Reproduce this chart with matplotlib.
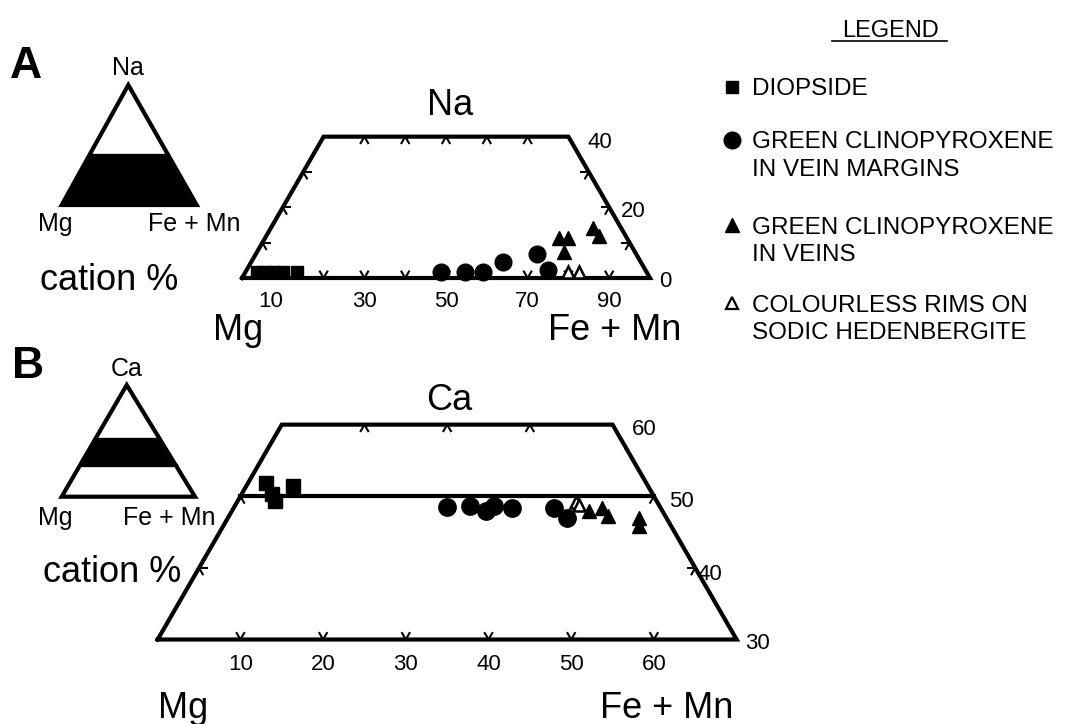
import numpy as np
import matplotlib
matplotlib.use('Agg')
import matplotlib.pyplot as plt
from matplotlib.patches import Polygon

plt.rcParams['font.family'] = ['Liberation Sans', 'DejaVu Sans']
plt.rcParams['hatch.linewidth'] = 1.5

W, H, DPI = 1072, 724, 100

# ---------------- data (cation %) ----------------
# Panel A : Na - Mg - (Fe + Mn)
a_diop_fe = [2.8, 4.7, 6.9, 9.1, 12.6]
a_diop_na = [1.8, 1.8, 1.8, 1.8, 1.8]
a_marg_fe = [47.8, 53.8, 58.2, 61.7, 69.0, 73.9]
a_marg_na = [1.8, 1.8, 1.8, 4.6, 6.7, 2.3]
a_vein_fe = [72.2, 74.4, 75.2, 78.9, 81.6]
a_vein_na = [11.2, 11.2, 7.4, 14.2, 12.0]
a_rim_fe = [79.1, 81.8]
a_rim_na = [1.8, 1.8]

# Panel B : Ca - Mg - (Fe + Mn)
b_diop_fe = [2.2, 3.7, 4.5, 5.6]
b_diop_ca = [51.9, 50.3, 49.3, 51.4]
b_marg_fe = [25.7, 28.5, 30.7, 31.4, 33.7, 38.7, 41.1]
b_marg_ca = [48.5, 48.6, 48.0, 48.6, 48.4, 48.4, 46.9]
b_vein_fe = [43.1, 44.5, 45.9, 49.7, 50.3]
b_vein_ca = [48.0, 48.4, 47.2, 47.0, 45.8]
b_rim_fe = [41.0, 41.6]
b_rim_ca = [49.2, 48.8]

a_bottom_labels = [10, 30, 50, 70, 90]
a_right_labels = [40, 20, 0]
b_bottom_labels = [10, 20, 30, 40, 50, 60]
b_right_labels = [60, 50, 40, 30]

legend_labels = ["DIOPSIDE",
                 "GREEN CLINOPYROXENE\nIN VEIN MARGINS",
                 "GREEN CLINOPYROXENE\nIN VEINS",
                 "COLOURLESS RIMS ON\nSODIC HEDENBERGITE"]

SQ3 = np.sqrt(3) / 2


def tern(fe, top):
    fe = np.asarray(fe, float)
    top = np.asarray(top, float)
    return fe + top / 2.0, top * SQ3


fig = plt.figure(figsize=(W / DPI, H / DPI), dpi=DPI)


def tern_axes(ox, oy, s, X0, Y0):
    ax = fig.add_axes([0, 0, 1, 1])
    ax.set_xlim(X0 + (0 - ox) / s, X0 + (W - ox) / s)
    ax.set_ylim(Y0 + (oy - H) / s, Y0 + oy / s)
    ax.axis('off')
    ax.patch.set_alpha(0)
    return ax


def ptext(px, py, s, **kw):
    kw.setdefault('va', 'baseline')
    kw.setdefault('ha', 'left')
    fig.text(px / W, 1 - py / H, s, **kw)


def chevron(ax, fe, top, dirs, L):
    x, y = tern(fe, top)
    for dx, dy in dirs:
        ax.plot([x, x + dx * L], [y, y + dy * L], color='black', lw=1.5,
                solid_capstyle='butt', zorder=2)


BORDER = 3.0
UP_DIRS = [(0.5, SQ3), (-0.5, SQ3)]
DOWN_DIRS = [(0.5, -SQ3), (-0.5, -SQ3)]
LEFT_DIRS = [(1, 0), (0.5, -SQ3)]
RIGHT_DIRS = [(-1, 0), (-0.5, -SQ3)]
TICK_PX = 8.5

# ---------------- Panel A ----------------
sA = 4.08
axA = tern_axes(242, 278, sA, 0, 0)
x, y = tern([0, 100, 60, 0, 0], [0, 0, 40, 40, 0])
axA.plot(x, y, color='black', lw=BORDER, solid_joinstyle='miter', zorder=3)
LA = TICK_PX / sA
for f in range(10, 100, 10):
    chevron(axA, f, 0, UP_DIRS, LA)
for f in range(10, 60, 10):
    chevron(axA, f, 40, DOWN_DIRS, LA)
for n in (10, 20, 30):
    chevron(axA, 0, n, LEFT_DIRS, LA)
    chevron(axA, 100 - n, n, RIGHT_DIRS, LA)

axA.plot(*tern(a_diop_fe, a_diop_na), 's', color='black', ms=9, zorder=5)
axA.plot(*tern(a_marg_fe, a_marg_na), 'o', color='black', ms=12, zorder=5)
axA.plot(*tern(a_vein_fe, a_vein_na), '^', color='black', ms=10, zorder=5)
axA.plot(*tern(a_rim_fe, a_rim_na), '^', mfc='white', mec='black', mew=1.8,
         ms=9, zorder=5)

# ---------------- Panel B ----------------
sB = 8.27
axB = tern_axes(157.7, 639.5, sB, 15, 30 * SQ3)
x, y = tern([0, 70, 40, 0, 0], [30, 30, 60, 60, 30])
axB.plot(x, y, color='black', lw=BORDER, solid_joinstyle='miter', zorder=3)
x, y = tern([0, 50], [50, 50])
axB.plot(x, y, color='black', lw=BORDER, zorder=3)
LB = TICK_PX / sB
for f in range(10, 70, 10):
    chevron(axB, f, 30, UP_DIRS, LB)
for f in range(10, 40, 10):
    chevron(axB, f, 60, DOWN_DIRS, LB)
for c in (40, 50):
    chevron(axB, 0, c, LEFT_DIRS, LB)
    chevron(axB, 100 - c, c, RIGHT_DIRS, LB)

axB.plot(*tern(b_diop_fe, b_diop_ca), 's', color='black', ms=10, zorder=5)
axB.plot(*tern(b_marg_fe, b_marg_ca), 'o', color='black', ms=12.5, zorder=5)
axB.plot(*tern(b_vein_fe, b_vein_ca), '^', color='black', ms=10, zorder=5)
axB.plot(*tern(b_rim_fe, b_rim_ca), '^', mfc='white', mec='black', mew=1.8,
         ms=9, zorder=5)

# ---------------- inset triangles (pixel axes) ----------------
axP = fig.add_axes([0, 0, 1, 1])
axP.set_xlim(0, W)
axP.set_ylim(H, 0)
axP.axis('off')
axP.patch.set_alpha(0)


def inset(apex, base_y, xl, xr, f0, f1):
    ax_, ay = apex
    h = base_y - ay

    def edge_pts(f):
        yy = base_y - f * h
        return (xl + (ax_ - xl) * f, yy), (xr + (ax_ - xr) * f, yy)
    (l0, r0), (l1, r1) = edge_pts(f0), edge_pts(f1)
    axP.add_patch(Polygon([l0, r0, r1, l1], closed=True, facecolor='white',
                          edgecolor='black', hatch='x' * 16, lw=0, zorder=1))
    for f in (f0, f1):
        if 0 < f < 1:
            a, b = edge_pts(f)
            axP.plot([a[0], b[0]], [a[1], b[1]], color='black', lw=2.4,
                     zorder=2)
    axP.add_patch(Polygon([(xl, base_y), (xr, base_y), apex], closed=True,
                          fill=False, edgecolor='black', lw=BORDER,
                          joinstyle='miter', zorder=3))


inset((128.3, 85), 205, 61.7, 196.7, 0.0, 0.42)
inset((126.7, 385), 496.7, 61.7, 195, 0.28, 0.52)

# ---------------- texts ----------------
BIG = 26
ptext(10, 78, 'A', fontsize=32, fontweight='bold')
ptext(128, 75, 'Na', fontsize=18, ha='center')
ptext(38, 231, 'Mg', fontsize=18)
ptext(148, 231, 'Fe + Mn', fontsize=18)
ptext(40, 290, 'cation %', fontsize=BIG)
ptext(450, 115, 'Na', fontsize=BIG, ha='center')
ptext(213, 340, 'Mg', fontsize=BIG)
ptext(548, 340, 'Fe + Mn', fontsize=BIG)
for v in a_bottom_labels:
    px = 242 + sA * v - (12 if v == 10 else 0)
    ptext(px, 307, str(v), fontsize=16, ha='center')
for v, (px, py) in zip(a_right_labels, [(587, 148), (621, 217), (659, 287)]):
    ptext(px, py, str(v), fontsize=16)

ptext(12, 378, 'B', fontsize=32, fontweight='bold')
ptext(127, 376, 'Ca', fontsize=18, ha='center')
ptext(38, 525, 'Mg', fontsize=18)
ptext(123, 525, 'Fe + Mn', fontsize=18)
ptext(43, 582, 'cation %', fontsize=BIG)
ptext(449, 410, 'Ca', fontsize=BIG, ha='center')
ptext(158, 718, 'Mg', fontsize=BIG)
ptext(600, 718, 'Fe + Mn', fontsize=BIG)
for v in b_bottom_labels:
    ptext(157.7 + sB * v, 670, str(v), fontsize=16, ha='center')
for v, (px, py) in zip(b_right_labels,
                       [(632, 435), (669, 507), (697, 580), (745, 649)]):
    ptext(px, py, str(v), fontsize=16)

# ---------------- legend ----------------
ptext(890, 37, 'LEGEND', fontsize=17, ha='center')
axP.plot([832, 947], [41, 41], color='black', lw=1.2)
leg_y = [86.7, 140, 225, 303]
leg_mk = [dict(marker='s', color='black', ms=9),
          dict(marker='o', color='black', ms=12),
          dict(marker='^', color='black', ms=10),
          dict(marker='^', mfc='white', mec='black', mew=1.6, ms=9)]
for lab, yy, mk in zip(legend_labels, leg_y, leg_mk):
    axP.plot([732], [yy], linestyle='none', **mk)
    for i, line in enumerate(lab.split('\n')):
        ptext(752, yy + 8.5 + i * 27.5, line, fontsize=17.5)

fig.savefig('out.png', dpi=DPI)
